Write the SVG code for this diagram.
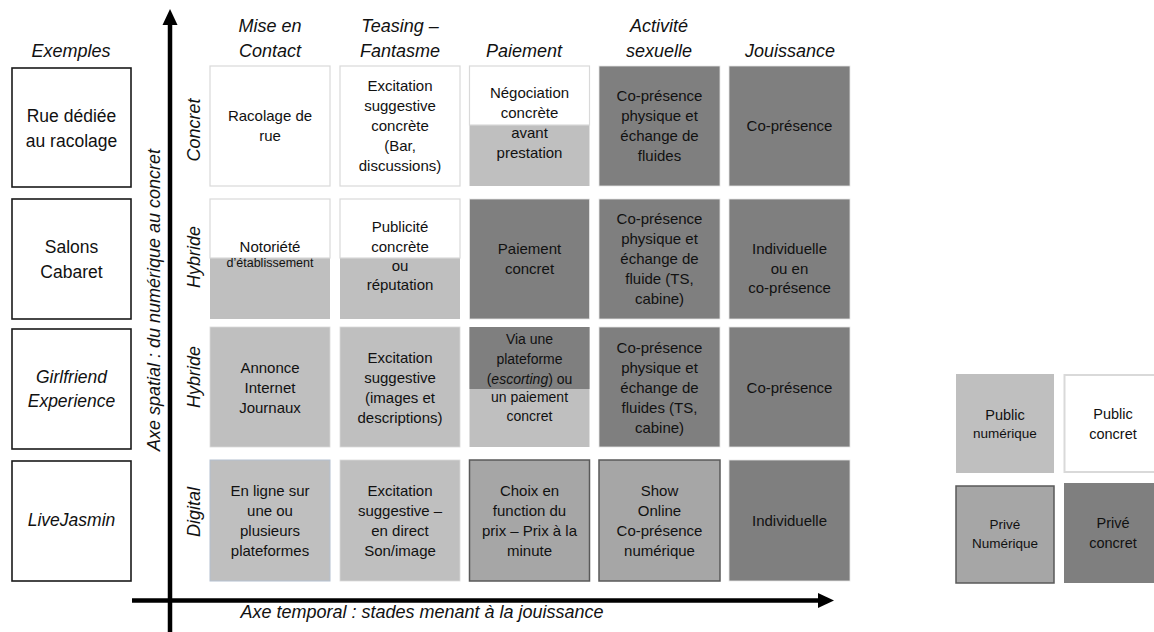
<svg xmlns="http://www.w3.org/2000/svg" width="1154" height="632" viewBox="0 0 1154 632">
<style>
text{font-family:"Liberation Sans",Arial,sans-serif;fill:#111;text-anchor:middle}
.h{font-size:18px;font-style:italic}
.ex{font-size:17.5px}
.it{font-style:italic}
.c{font-size:15px}
.s{font-size:14px}
.sl{font-size:13.5px}
.xs{font-size:12.5px}
.lg{font-size:14.5px}
.exbox{fill:#fff;stroke:#1a1a1a;stroke-width:1.6}
.w{fill:#fff;stroke:#d9d9d9;stroke-width:1.2}
.g{fill:#bfbfbf;stroke:#d9d9d9;stroke-width:0.8}
.d{fill:#7f7f7f;stroke:#e6e6e6;stroke-width:0.8}
.m{fill:#a6a6a6;stroke:#595959;stroke-width:1.5}
.ax{stroke:#000;stroke-width:4.5;fill:none}
</style>

<!-- headers -->
<g id="headers">
<text class="h" x="71" y="57">Exemples</text>
<text class="h" x="270" y="32">Mise en</text><text class="h" x="270" y="57">Contact</text>
<text class="h" x="400" y="32">Teasing –</text><text class="h" x="400" y="57">Fantasme</text>
<text class="h" x="524" y="57">Paiement</text>
<text class="h" x="659" y="32">Activité</text><text class="h" x="659" y="57">sexuelle</text>
<text class="h" x="790" y="57">Jouissance</text>
</g>

<!-- connectors: axes -->
<g id="connectors">
<line class="ax" x1="170" y1="22" x2="170" y2="632"/>
<polygon points="170,9 162.5,25 177.5,25" fill="#000"/>
<line class="ax" x1="132" y1="600.5" x2="820" y2="600.5"/>
<polygon points="834,600.5 818,593 818,608" fill="#000"/>
<text class="h" transform="translate(160,300) rotate(-90)">Axe spatial : du numérique au concret</text>
<text class="h" x="422" y="618">Axe temporal : stades menant à la jouissance</text>
</g>

<!-- row labels -->
<g id="row-labels">
<text class="h" transform="translate(200,130) rotate(-90)">Concret</text>
<text class="h" transform="translate(200,257) rotate(-90)">Hybride</text>
<text class="h" transform="translate(200,377) rotate(-90)">Hybride</text>
<text class="h" transform="translate(200,512) rotate(-90)">Digital</text>
</g>

<!-- examples -->
<g id="ex-rue"><rect class="exbox" x="12" y="68" width="119" height="119"/>
<text class="ex" x="71.5" y="122">Rue dédiée</text><text class="ex" x="71.5" y="147">au racolage</text></g>
<g id="ex-salons"><rect class="exbox" x="12" y="199" width="119" height="120"/>
<text class="ex" x="71.5" y="253">Salons</text><text class="ex" x="71.5" y="278">Cabaret</text></g>
<g id="ex-gfe"><rect class="exbox" x="12" y="329" width="119" height="120"/>
<text class="ex it" x="71.5" y="383">Girlfriend</text><text class="ex it" x="71.5" y="407">Experience</text></g>
<g id="ex-livejasmin"><rect class="exbox" x="12" y="461" width="119" height="120"/>
<text class="ex it" x="71.5" y="526">LiveJasmin</text></g>

<!-- row 1 -->
<g id="r1c1"><rect class="w" x="210" y="66" width="120" height="120"/>
<text class="c" x="270" y="121">Racolage de</text><text class="c" x="270" y="141">rue</text></g>
<g id="r1c2"><rect class="w" x="340" y="66" width="120" height="120"/>
<text class="c" x="400" y="91">Excitation</text><text class="c" x="400" y="111">suggestive</text><text class="c" x="400" y="131">concrète</text><text class="c" x="400" y="151">(Bar,</text><text class="c" x="400" y="171">discussions)</text></g>
<g id="r1c3"><rect x="469.5" y="66" width="120" height="120" fill="#bfbfbf"/><rect class="w" x="469.5" y="66" width="120" height="59"/>
<text class="c" x="529.5" y="98">Négociation</text><text class="c" x="529.5" y="118">concrète</text><text class="c" x="529.5" y="138">avant</text><text class="c" x="529.5" y="158">prestation</text></g>
<g id="r1c4"><rect class="d" x="599" y="66" width="121" height="120"/>
<text class="c" x="659.5" y="101">Co-présence</text><text class="c" x="659.5" y="121">physique et</text><text class="c" x="659.5" y="141">échange de</text><text class="c" x="659.5" y="161">fluides</text></g>
<g id="r1c5"><rect class="d" x="729" y="66" width="121" height="120"/>
<text class="c" x="789.5" y="131">Co-présence</text></g>

<!-- row 2 -->
<g id="r2c1"><rect x="210" y="199" width="120" height="120" fill="#bfbfbf"/><rect class="w" x="210" y="199" width="120" height="59"/>
<text class="c" x="270" y="252">Notoriété</text><text class="xs" x="270" y="267">d’établissement</text></g>
<g id="r2c2"><rect x="340" y="199" width="120" height="120" fill="#bfbfbf"/><rect class="w" x="340" y="199" width="120" height="59"/>
<text class="c" x="400" y="232">Publicité</text><text class="c" x="400" y="252">concrète</text><text class="c" x="400" y="271">ou</text><text class="c" x="400" y="290">réputation</text></g>
<g id="r2c3"><rect class="d" x="469.5" y="199" width="120" height="120"/>
<text class="c" x="529.5" y="254">Paiement</text><text class="c" x="529.5" y="274">concret</text></g>
<g id="r2c4"><rect class="d" x="599" y="199" width="121" height="120"/>
<text class="c" x="659.5" y="224">Co-présence</text><text class="c" x="659.5" y="244">physique et</text><text class="c" x="659.5" y="264">échange de</text><text class="c" x="659.5" y="284">fluide (TS,</text><text class="c" x="659.5" y="304">cabine)</text></g>
<g id="r2c5"><rect class="d" x="729" y="199" width="121" height="120"/>
<text class="c" x="789.5" y="254">Individuelle</text><text class="c" x="789.5" y="274">ou en</text><text class="c" x="789.5" y="293">co-présence</text></g>

<!-- row 3 -->
<g id="r3c1"><rect class="g" x="210" y="327" width="120" height="120"/>
<text class="c" x="270" y="373">Annonce</text><text class="c" x="270" y="393">Internet</text><text class="c" x="270" y="413">Journaux</text></g>
<g id="r3c2"><rect class="g" x="340" y="327" width="120" height="120"/>
<text class="c" x="400" y="363">Excitation</text><text class="c" x="400" y="383">suggestive</text><text class="c" x="400" y="403">(images et</text><text class="c" x="400" y="423">descriptions)</text></g>
<g id="r3c3"><rect x="469.5" y="327" width="120" height="120" fill="#bfbfbf"/><rect x="469.5" y="327" width="120" height="62" fill="#7f7f7f"/>
<text class="s" x="529.5" y="344">Via une</text><text class="s" x="529.5" y="364">plateforme</text><text class="s" x="529.5" y="384">(<tspan class="it">escorting</tspan>) ou</text><text class="s" x="529.5" y="402">un paiement</text><text class="s" x="529.5" y="421">concret</text></g>
<g id="r3c4"><rect class="d" x="599" y="327" width="121" height="120"/>
<text class="c" x="659.5" y="353">Co-présence</text><text class="c" x="659.5" y="373">physique et</text><text class="c" x="659.5" y="393">échange de</text><text class="c" x="659.5" y="413">fluides (TS,</text><text class="c" x="659.5" y="433">cabine)</text></g>
<g id="r3c5"><rect class="d" x="729" y="327" width="121" height="120"/>
<text class="c" x="789.5" y="393">Co-présence</text></g>

<!-- row 4 -->
<g id="r4c1"><rect x="210" y="460" width="120" height="121" fill="#bfbfbf" stroke="#b4c0d0" stroke-width="1"/>
<text class="c" x="270" y="496">En ligne sur</text><text class="c" x="270" y="516">une ou</text><text class="c" x="270" y="536">plusieurs</text><text class="c" x="270" y="556">plateformes</text></g>
<g id="r4c2"><rect class="g" x="340" y="460" width="120" height="121"/>
<text class="c" x="400" y="496">Excitation</text><text class="c" x="400" y="516">suggestive –</text><text class="c" x="400" y="536">en direct</text><text class="c" x="400" y="556">Son/image</text></g>
<g id="r4c3"><rect class="m" x="469.5" y="460" width="120" height="121"/>
<text class="c" x="529.5" y="496">Choix en</text><text class="c" x="529.5" y="516">function du</text><text class="c" x="529.5" y="536">prix – Prix à la</text><text class="c" x="529.5" y="556">minute</text></g>
<g id="r4c4"><rect class="m" x="599" y="460" width="121" height="121"/>
<text class="c" x="659.5" y="496">Show</text><text class="c" x="659.5" y="516">Online</text><text class="c" x="659.5" y="536">Co-présence</text><text class="c" x="659.5" y="556">numérique</text></g>
<g id="r4c5"><rect class="d" x="729" y="460" width="121" height="121"/>
<text class="c" x="789.5" y="526">Individuelle</text></g>

<!-- legend -->
<g id="lg-public-num"><rect x="956" y="374" width="98" height="99" fill="#bfbfbf"/>
<text class="lg" x="1005" y="420">Public</text><text class="sl" x="1005" y="438">numérique</text></g>
<g id="lg-public-concret"><rect x="1064.5" y="375" width="98" height="97" fill="#fff" stroke="#d9d9d9" stroke-width="2"/>
<text class="lg" x="1113" y="419">Public</text><text class="lg" x="1113" y="439">concret</text></g>
<g id="lg-prive-num"><rect x="956" y="486" width="98" height="97" fill="#a6a6a6" stroke="#595959" stroke-width="1.5"/>
<text class="sl" x="1005" y="529">Privé</text><text class="sl" x="1005" y="548">Numérique</text></g>
<g id="lg-prive-concret"><rect x="1064" y="483" width="100" height="100" fill="#7f7f7f"/>
<text class="lg" x="1113" y="528">Privé</text><text class="lg" x="1113" y="548">concret</text></g>
</svg>
